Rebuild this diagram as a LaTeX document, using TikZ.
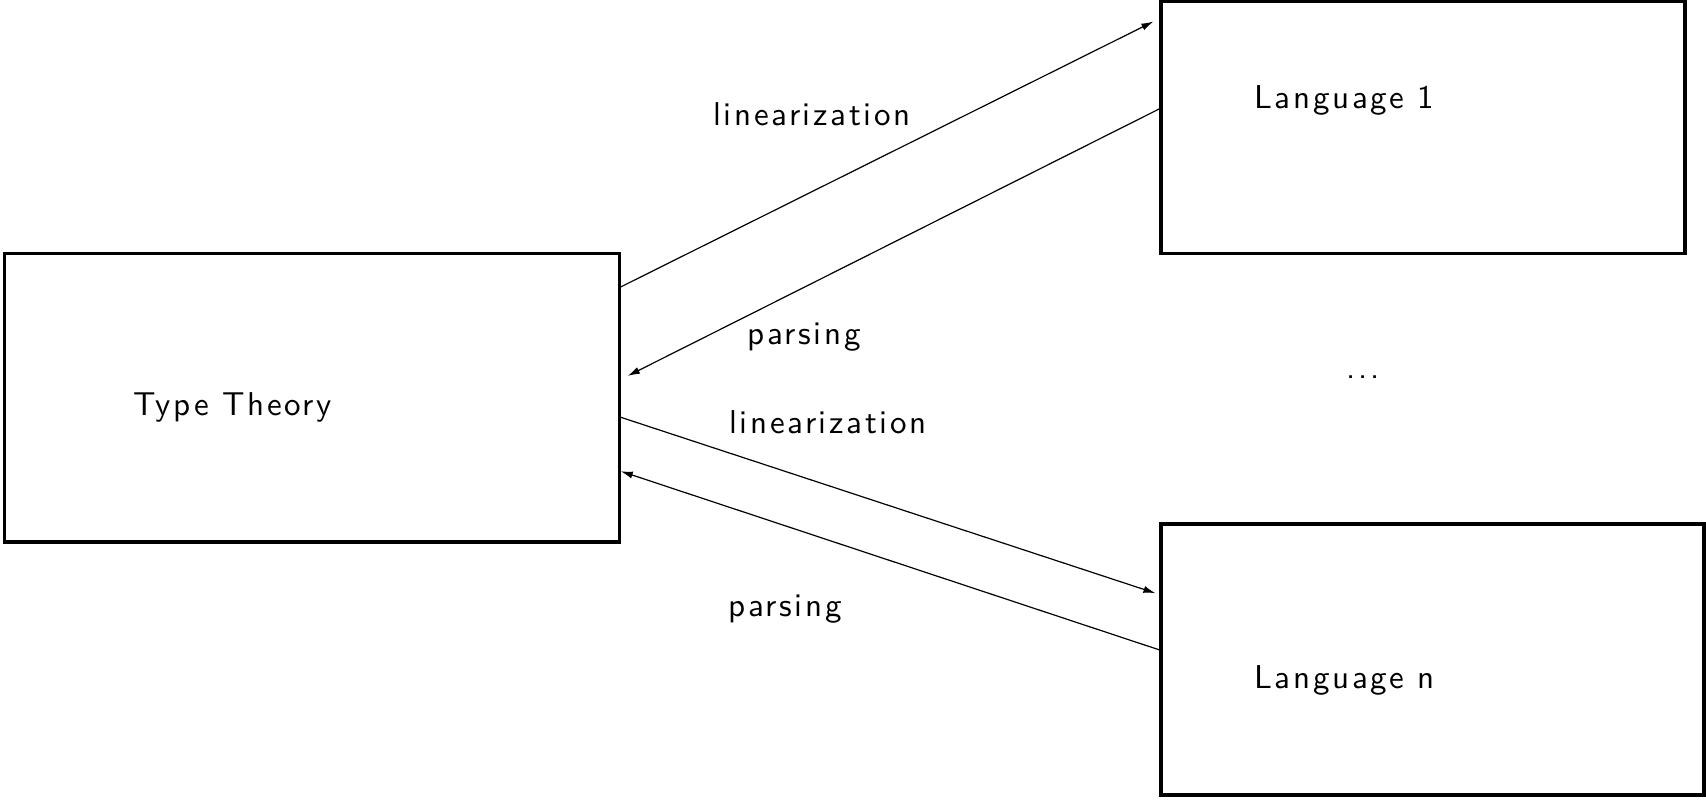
\documentclass[tikz,border=0pt]{standalone}
\usepackage{fontspec}
\usetikzlibrary{arrows.meta,calc}

% Latin Modern Sans, 10pt design size, slightly letter-spaced
\newfontfamily\lblfont{lmsans10-regular.otf}[LetterSpace=8]

\tikzset{
  box/.style={draw, line width=1.6pt, rectangle, inner sep=0pt},
  lbl/.style={anchor=base west, inner sep=0pt,
    font=\lblfont\fontsize{16.5}{20}\selectfont},
  conn/.style={line width=0.6pt, -{Latex[length=6pt,width=3.6pt]}},
}

\begin{document}
\begin{tikzpicture}[x=0.5pt, y=-0.5pt]
  \useasboundingbox (0,0) rectangle (1706,801);

  % the three boxes
  \node[box, minimum width=307.5pt, minimum height=144.25pt] (tt) at (311.7,397.75) {};
  \node[box, minimum width=262pt,   minimum height=126.25pt] (l1) at (1423,127.25) {};
  \node[box, minimum width=271.5pt, minimum height=135.5pt]  (ln) at (1432.5,659.5) {};

  % box captions
  \node[lbl] (ttlabel) at (133,416) {Type Theory};
  \node[lbl] (l1label) at (1254,109) {Language 1};
  \node[lbl] (lnlabel) at (1254,688) {Language n};
  \node[lbl] (dots)    at (1346,379) {...};

  % attachment points on the box sides
  \coordinate (ttA) at ($(tt.north east)!0.12!(tt.south east)$);
  \coordinate (ttB) at ($(tt.north east)!0.437!(tt.south east)$);
  \coordinate (ttC) at ($(tt.north east)!0.567!(tt.south east)$);
  \coordinate (ttD) at ($(tt.north east)!0.752!(tt.south east)$);
  \coordinate (l1A) at ($(l1.north west)!0.075!(l1.south west)$);
  \coordinate (l1B) at ($(l1.north west)!0.428!(l1.south west)$);
  \coordinate (lnA) at ($(ln.north west)!0.263!(ln.south west)$);
  \coordinate (lnB) at ($(ln.north west)!0.465!(ln.south west)$);

  % connectors
  \draw[conn, shorten >=3.35pt] (ttA) -- (l1A);
  \draw[conn, shorten >=3.9pt]  (l1B) -- (ttB);
  \draw[conn, shorten >=2.1pt]  (ttC) -- (lnA);
  \draw[conn]                   (lnB) -- (ttD);

  % connector labels
  \node[lbl] (lin1) at (713,126) {linearization};
  \node[lbl] (par1) at (747,345) {parsing};
  \node[lbl] (lin2) at (729,434) {linearization};
  \node[lbl] (par2) at (728,616) {parsing};
\end{tikzpicture}
\end{document}
